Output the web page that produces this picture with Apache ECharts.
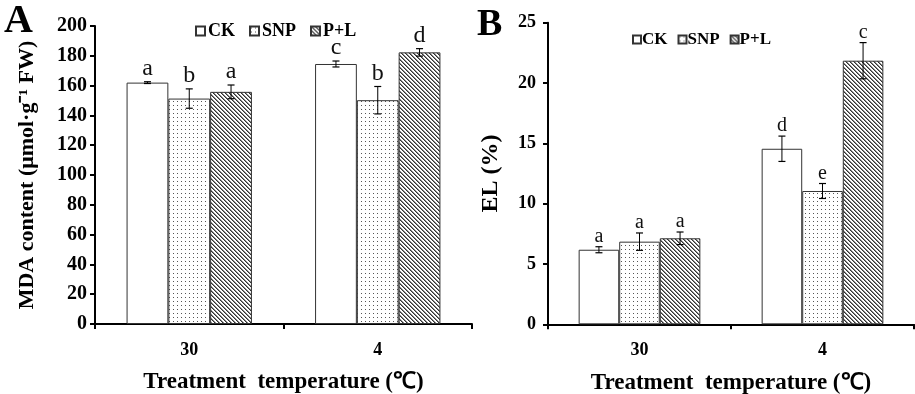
<!DOCTYPE html>
<html>
<head>
<meta charset="utf-8">
<script src="https://cdn.jsdelivr.net/npm/echarts@6/dist/echarts.min.js"></script>
<style>
html,body{margin:0;padding:0;background:#fff;}
#chart{width:915px;height:394px;}
</style>
</head>
<body>
<div id="chart"></div>
<script>
// ---- Data ----
var categories = ['30', '4'];
var seriesNames = ['CK', 'SNP', 'P+L'];

// Panel A: MDA content
var mdaCK = [162, 174.5];
var mdaSNP = [151.3, 150.2];
var mdaPL = [155.8, 182.3];
var mdaErrCK = [0.6, 2.0];
var mdaErrSNP = [6.5, 9.2];
var mdaErrPL = [4.6, 2.5];
var mdaLetCK = ['a', 'c'];
var mdaLetSNP = ['b', 'b'];
var mdaLetPL = ['a', 'd'];

// Panel B: EL (%)
var elCK = [6.18, 14.55];
var elSNP = [6.85, 11.05];
var elPL = [7.13, 21.85];
var elErrCK = [0.25, 1.05];
var elErrSNP = [0.72, 0.62];
var elErrPL = [0.52, 1.5];
var elLetCK = ['a', 'd'];
var elLetSNP = ['a', 'e'];
var elLetPL = ['a', 'c'];

// ---- Patterns ----
function dotPattern() {
  var c = document.createElement('canvas');
  c.width = 4; c.height = 4;
  var ctx = c.getContext('2d');
  ctx.fillStyle = '#fff'; ctx.fillRect(0, 0, 4, 4);
  ctx.fillStyle = '#555';
  ctx.fillRect(1, 1, 1, 1);
  return c;
}
function hatchPattern() {
  var c = document.createElement('canvas');
  c.width = 4; c.height = 4;
  var ctx = c.getContext('2d');
  ctx.fillStyle = '#fff'; ctx.fillRect(0, 0, 4, 4);
  for (var y = 0; y < 4; y++) {
    for (var x = 0; x < 4; x++) {
      var d = ((x - y) % 4 + 4) % 4;
      if (d === 0) { ctx.fillStyle = '#333'; ctx.fillRect(x, y, 1, 1); }
      if (d === 1) { ctx.fillStyle = '#888'; ctx.fillRect(x, y, 1, 1); }
    }
  }
  return c;
}
var fills = ['#ffffff', {image: dotPattern(), repeat: 'repeat'}, {image: hatchPattern(), repeat: 'repeat'}];

var GAP = 0.335;
var SERIF = '"Liberation Serif","Times New Roman",serif';

function barSeries(name, idx, data, g) {
  return {
    name: name, type: 'bar', xAxisIndex: g, yAxisIndex: g,
    data: data, barGap: '0%', barCategoryGap: (GAP * 100) + '%',
    itemStyle: {color: fills[idx], borderColor: '#333', borderWidth: 1},
    emphasis: {disabled: true}, animation: false
  };
}

function errSeries(idx, means, errs, letters, g, letFont, letGap) {
  var data = means.map(function (m, i) { return [i, m, errs[i]]; });
  return {
    type: 'custom', xAxisIndex: g, yAxisIndex: g, z: 10, silent: true, animation: false,
    data: data, encode: {x: 0, y: 1},
    renderItem: function (params, api) {
      var x = api.value(0), m = api.value(1), e = api.value(2);
      var band = api.size([1, 0])[0];
      var bw = band * (1 - GAP) / 3;
      var cx = api.coord([x, m])[0] + (idx - 1) * bw;
      var yT = api.coord([x, m + e])[1];
      var yB = api.coord([x, m - e])[1];
      var cap = 3.5;
      return {
        type: 'group', children: [
          {type: 'line', shape: {x1: cx, y1: yT, x2: cx, y2: yB}, style: {stroke: '#000', lineWidth: 1}},
          {type: 'line', shape: {x1: cx - cap, y1: yT, x2: cx + cap, y2: yT}, style: {stroke: '#000', lineWidth: 1.2}},
          {type: 'line', shape: {x1: cx - cap, y1: yB, x2: cx + cap, y2: yB}, style: {stroke: '#000', lineWidth: 1.2}},
          {type: 'text', style: {text: letters[params.dataIndex], x: cx, y: yT - letGap,
            textAlign: 'center', textVerticalAlign: 'bottom', font: letFont, fill: '#111'}}
        ]
      };
    }
  };
}

var axisLineStyle = {color: '#000', width: 2};

var option = {
  backgroundColor: '#fff',
  animation: false,
  textStyle: {fontFamily: SERIF},
  grid: [
    {left: 95, right: 443, top: 26, bottom: 70, containLabel: false, outerBoundsMode: 'none'},
    {left: 548, right: 1, top: 22.7, bottom: 69.7, containLabel: false, outerBoundsMode: 'none'}
  ],
  legend: [
    {
      data: seriesNames, left: 190, top: 17, itemWidth: 9, itemHeight: 9, itemGap: 14,
      icon: 'rect',
      textStyle: {fontFamily: SERIF, fontWeight: 'bold', fontSize: 18, color: '#000', padding: [0, 0, 0, -2]},
      selectedMode: false
    },
    {
      data: seriesNames, left: 627, top: 26, itemWidth: 8, itemHeight: 8, itemGap: 10,
      icon: 'rect',
      textStyle: {fontFamily: SERIF, fontWeight: 'bold', fontSize: 17, color: '#000', padding: [0, 0, 0, -4]},
      selectedMode: false
    }
  ],
  xAxis: [
    {
      type: 'category', gridIndex: 0, data: categories,
      axisLine: {lineStyle: axisLineStyle},
      axisTick: {show: true, length: 5, lineStyle: {color: '#000', width: 2}},
      axisLabel: {fontFamily: SERIF, fontWeight: 'bold', fontSize: 18, color: '#000', margin: 17},
      name: 'Treatment  temperature (℃)', nameLocation: 'middle', nameGap: 47,
      nameTextStyle: {fontFamily: SERIF, fontWeight: 'bold', fontSize: 23, color: '#000'}
    },
    {
      type: 'category', gridIndex: 1, data: categories,
      axisLine: {lineStyle: axisLineStyle},
      axisTick: {show: true, length: 5, lineStyle: {color: '#000', width: 2}},
      axisLabel: {fontFamily: SERIF, fontWeight: 'bold', fontSize: 18, color: '#000', margin: 17},
      name: 'Treatment  temperature (℃)', nameLocation: 'middle', nameGap: 47,
      nameTextStyle: {fontFamily: SERIF, fontWeight: 'bold', fontSize: 23, color: '#000'}
    }
  ],
  yAxis: [
    {
      type: 'value', gridIndex: 0, min: 0, max: 200, interval: 20,
      axisLine: {show: true, lineStyle: axisLineStyle},
      axisTick: {show: true, length: 5, lineStyle: {color: '#000', width: 2}},
      splitLine: {show: false},
      axisLabel: {fontFamily: SERIF, fontWeight: 'bold', fontSize: 20, color: '#000', margin: 8},
      name: 'MDA content (μmol·g⁻¹ FW)', nameLocation: 'middle', nameGap: 57, nameRotate: 90,
      nameTextStyle: {fontFamily: SERIF, fontWeight: 'bold', fontSize: 22, color: '#000'}
    },
    {
      type: 'value', gridIndex: 1, min: 0, max: 25, interval: 5,
      axisLine: {show: true, lineStyle: axisLineStyle},
      axisTick: {show: true, length: 5, lineStyle: {color: '#000', width: 2}},
      splitLine: {show: false},
      axisLabel: {fontFamily: SERIF, fontWeight: 'bold', fontSize: 18, color: '#000', margin: 12},
      name: 'EL (%)', nameLocation: 'middle', nameGap: 45, nameRotate: 90,
      nameTextStyle: {fontFamily: SERIF, fontWeight: 'bold', fontSize: 24, color: '#000', padding: [0, 0, 0, 0]}
    }
  ],
  graphic: [
    {type: 'text', left: 4, top: 2, style: {text: 'A', font: 'bold 40px ' + SERIF, fill: '#000'}, z: 20},
    {type: 'text', left: 477, top: 6, style: {text: 'B', font: 'bold 38px ' + SERIF, fill: '#000'}, z: 20}
  ],
  series: [
    barSeries('CK', 0, mdaCK, 0),
    barSeries('SNP', 1, mdaSNP, 0),
    barSeries('P+L', 2, mdaPL, 0),
    errSeries(0, mdaCK, mdaErrCK, mdaLetCK, 0, '24px ' + SERIF, 1),
    errSeries(1, mdaSNP, mdaErrSNP, mdaLetSNP, 0, '24px ' + SERIF, 1),
    errSeries(2, mdaPL, mdaErrPL, mdaLetPL, 0, '24px ' + SERIF, 1),
    barSeries('CK', 0, elCK, 1),
    barSeries('SNP', 1, elSNP, 1),
    barSeries('P+L', 2, elPL, 1),
    errSeries(0, elCK, elErrCK, elLetCK, 1, '20px ' + SERIF, 0),
    errSeries(1, elSNP, elErrSNP, elLetSNP, 1, '20px ' + SERIF, 0),
    errSeries(2, elPL, elErrPL, elLetPL, 1, '20px ' + SERIF, 0)
  ]
};

var chart = echarts.init(document.getElementById('chart'), null, {renderer: 'canvas'});
chart.setOption(option);
</script>
</body>
</html>
